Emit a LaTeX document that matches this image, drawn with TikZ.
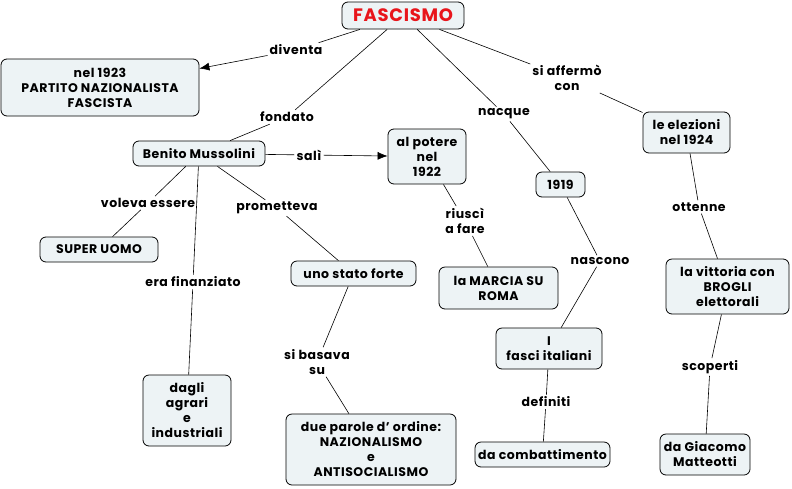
\documentclass[tikz,border=0pt]{standalone}
\usepackage{fontspec}
\setmainfont{Poppins}[LetterSpace=4]
\usetikzlibrary{arrows.meta}
\definecolor{boxfill}{HTML}{EDF3F5}
\definecolor{titlered}{HTML}{E8151B}
\begin{document}
\begin{tikzpicture}[x=1pt, y=-1pt,
    concept/.style={draw=black, line width=0.8pt, fill=boxfill, rounded corners=6pt, align=center,
      font={\fontsize{12.5}{15}\selectfont\bfseries}, inner sep=2pt},
    link/.style={align=center, font={\fontsize{12.5}{15}\selectfont\bfseries}, inner sep=2pt},
    conn/.style={line width=0.6pt},
    arr/.style={line width=0.6pt, -{Latex[length=10pt,width=8pt]}}]
  \useasboundingbox (0,0) rectangle (792,488);
  % concepts
  \node[concept, minimum width=122, minimum height=27, text=titlered, font={\fontsize{18}{18}\selectfont\bfseries}] (fasc) at (403,15.5) {FASCISMO};
  \node[concept, minimum width=198, minimum height=57] (partito) at (100,87.5) {nel 1923\\PARTITO NAZIONALISTA\\FASCISTA};
  \node[concept, minimum width=132, minimum height=25] (benito) at (199,153.5) {Benito Mussolini};
  \node[concept, minimum width=78, minimum height=55] (potere) at (427,156.5) {al potere\\nel\\1922};
  \node[concept, minimum width=49, minimum height=25] (anno) at (560.5,184.5) {1919};
  \node[concept, minimum width=87, minimum height=41] (elezioni) at (686.5,132.5) {le elezioni\\nel 1924};
  \node[concept, minimum width=118, minimum height=25] (uomo) at (99,249.5) {SUPER UOMO};
  \node[concept, minimum width=125, minimum height=25] (stato) at (353.5,273.5) {uno stato forte};
  \node[concept, minimum width=119, minimum height=42] (marcia) at (498.5,288) {la MARCIA SU\\ROMA};
  \node[concept, minimum width=123, minimum height=55] (vittoria) at (727.5,286.5) {la vittoria con\\BROGLI\\elettorali};
  \node[concept, minimum width=106, minimum height=41] (fasci) at (549,348.5) {I\\fasci italiani};
  \node[concept, minimum width=88, minimum height=71] (agrari) at (187,410.5) {dagli\\agrari\\e\\industriali};
  \node[concept, minimum width=170, minimum height=71] (parole) at (371,449.5) {due parole d' ordine:\\NAZIONALISMO\\e\\ANTISOCIALISMO};
  \node[concept, minimum width=135, minimum height=25] (combatt) at (542.5,454.5) {da combattimento};
  \node[concept, minimum width=90, minimum height=41] (matteotti) at (705,454.5) {da Giacomo\\Matteotti};
  % linking phrases
  \node[link] (ldiventa) at (296,50) {diventa};
  \node[link] (lfondato) at (287,117) {fondato};
  \node[link] (lnacque) at (504,114) {nacque};
  \node[link] (laffermo) at (567,78) {si affermò\\con};
  \node[link] (lsali) at (309,155) {salì};
  \node[link] (lvoleva) at (148,203) {voleva essere};
  \node[link] (lprom) at (277,208) {prometteva};
  \node[link] (lfinanz) at (193,282) {era finanziato};
  \node[link] (lbasava) at (317,362) {si basava\\su};
  \node[link] (lriusci) at (465,221) {riuscì\\a fare};
  \node[link] (lnascono) at (600,261) {nascono};
  \node[link] (ldefiniti) at (546,402) {definiti};
  \node[link] (lottenne) at (699,207) {ottenne};
  \node[link] (lscoperti) at (710,367) {scoperti};
  % connectors
  \draw[conn] (fasc) -- (ldiventa); \draw[arr] (ldiventa) -- (partito);
  \draw[conn] (fasc) -- (lfondato) -- (benito);
  \draw[conn] (fasc) -- (lnacque) -- (anno);
  \draw[conn] (fasc) -- (laffermo) -- (elezioni);
  \draw[conn] (benito) -- (lsali); \draw[arr] (lsali) -- (potere);
  \draw[conn] (benito) -- (lvoleva) -- (uomo);
  \draw[conn] (benito) -- (lprom) -- (stato);
  \draw[conn] (benito) -- (lfinanz) -- (agrari);
  \draw[conn] (stato) -- (lbasava) -- (parole);
  \draw[conn] (potere) -- (lriusci) -- (marcia);
  \draw[conn] (anno) -- (lnascono) -- (fasci);
  \draw[conn] (fasci) -- (ldefiniti) -- (combatt);
  \draw[conn] (elezioni) -- (lottenne) -- (vittoria);
  \draw[conn] (vittoria) -- (lscoperti) -- (matteotti);
\end{tikzpicture}
\end{document}
